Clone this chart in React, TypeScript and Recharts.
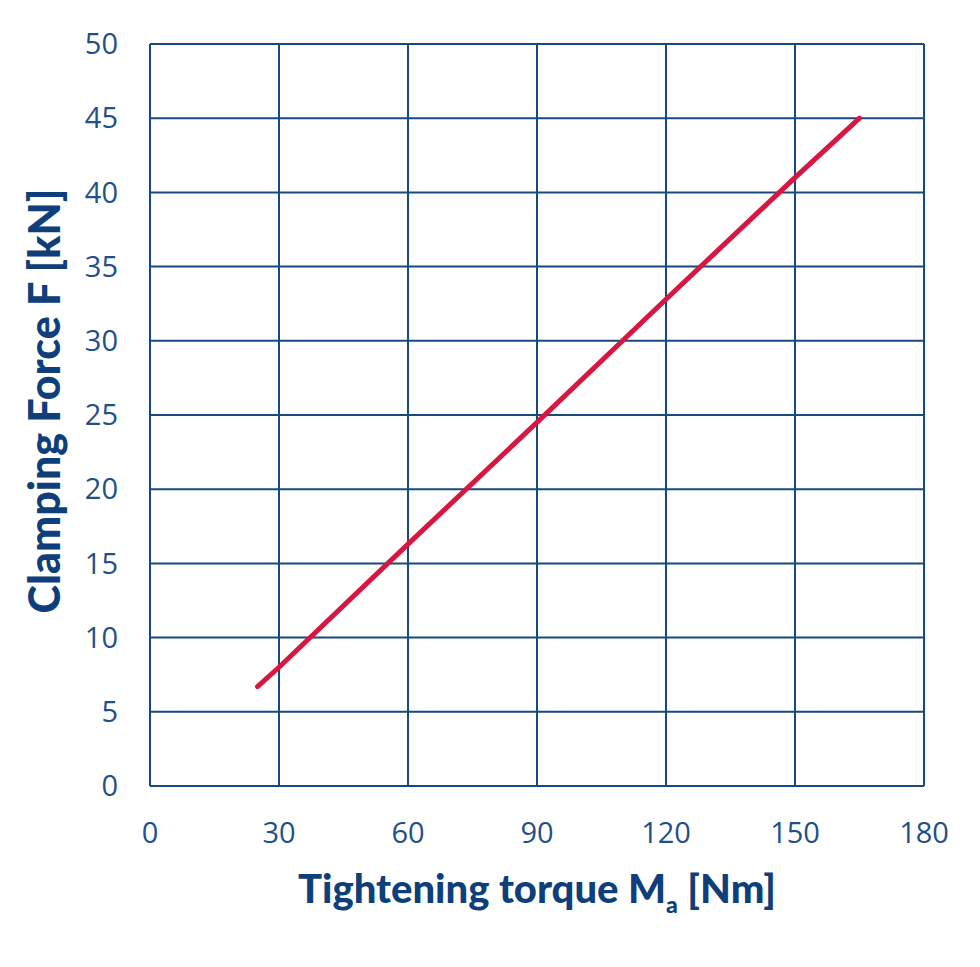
import { LineChart, Line, XAxis, YAxis, CartesianGrid, Label } from "recharts";

const torque = [25, 30, 60, 90, 120, 150, 165];
const force = [6.7, 8.0, 16.3, 24.5, 32.8, 41.0, 45.0];
const xTicks = [0, 30, 60, 90, 120, 150, 180];
const yTicks = [0, 5, 10, 15, 20, 25, 30, 35, 40, 45, 50];

const NAVY = "#17487f";
const TEXT = "#1f5089";
const TITLE = "#0e3f7a";
const RED = "#d7173f";

const data = torque.map((t, i) => ({ t, f: force[i] }));

function YTitle() {
  const cx = 52;
  const cy = 393;
  return (
    <text
      x={cx}
      y={cy}
      transform={`rotate(-90 ${cx} ${cy})`}
      textAnchor="middle"
      fill={TITLE}
      style={{ fontFamily: "Lato", fontWeight: 900, fontSize: 43 }}
    >
      Clamping Force F [kN]
    </text>
  );
}

function XTitle({ viewBox }: any) {
  const cx = viewBox.x + viewBox.width / 2;
  const cy = 895;
  return (
    <text
      x={cx}
      y={cy}
      textAnchor="middle"
      fill={TITLE}
      style={{ fontFamily: "Lato", fontWeight: 900, fontSize: 40 }}
    >
      Tightening torque M
      <tspan fontSize={23} dy={10}>a</tspan>
      <tspan dy={-10}> [Nm]</tspan>
    </text>
  );
}

export default function App() {
  return (
    <LineChart
      width={964}
      height={950}
      data={data}
      margin={{ top: 36, right: 48, bottom: 112, left: 42 }}
    >
      <CartesianGrid stroke={NAVY} strokeWidth={2} horizontalValues={yTicks} verticalValues={xTicks} />
      <XAxis
        dataKey="t"
        type="number"
        domain={[0, 180]}
        ticks={xTicks}
        axisLine={false}
        tickLine={false}
        tickSize={0}
        tickMargin={36}
        height={60}
        tick={{ fill: TEXT, fontSize: 29, fontFamily: "Open Sans" }}
      >
        <Label content={XTitle} />
      </XAxis>
      <YAxis
        type="number"
        domain={[0, 50]}
        ticks={yTicks}
        axisLine={false}
        tickLine={false}
        tickSize={0}
        tickMargin={32}
        width={100}
        tick={{ fill: TEXT, fontSize: 29, fontFamily: "Open Sans" }}
      >
        <Label content={YTitle} />
      </YAxis>
      <Line
        dataKey="f"
        stroke={RED}
        strokeWidth={5}
        strokeLinecap="round"
        dot={false}
        isAnimationActive={false}
      />
    </LineChart>
  );
}
